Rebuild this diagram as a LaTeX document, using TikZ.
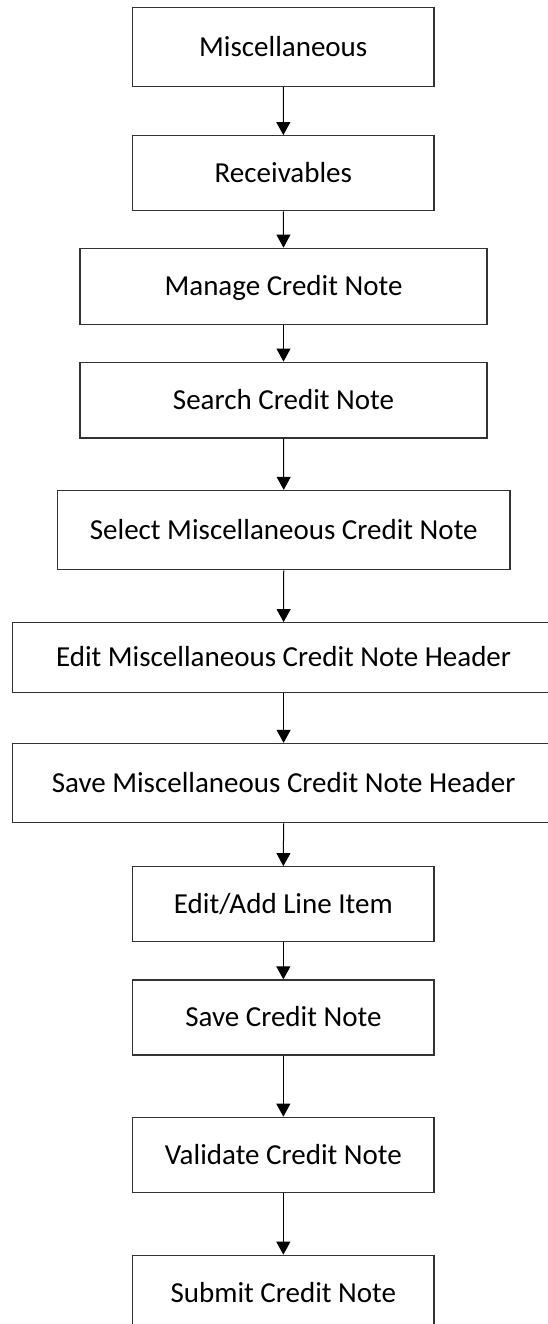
\documentclass[tikz,border=0pt]{standalone}
\usepackage{fontspec}
\setmainfont{Carlito}
\usetikzlibrary{arrows.meta}
\tikzset{
  stepbox/.style={draw=black!80, line width=1.3pt, rectangle, inner sep=0pt,
    font=\fontsize{29}{35}\selectfont, text height=18.5pt, text depth=0pt},
  flow/.style={draw=black, line width=1pt, -{Triangle[width=14pt,length=13pt]}}
}
\begin{document}
\begin{tikzpicture}[x=1pt,y=-1pt]
\useasboundingbox (0,0) rectangle (547,1324);
\newcommand{\bx}[7]{%
  \node[stepbox, minimum width=#4-#3, minimum height=#6-#5] (#1) at ({(#3+#4)/2},{(#5+#6)/2}) {#7};}
\bx{misc}{}{132.5}{434}{7.7}{86.5}{Miscellaneous}
\bx{recv}{}{132.7}{434}{135.7}{210.7}{Receivables}
\bx{manage}{}{80}{487}{248.3}{324.5}{Manage Credit Note}
\bx{search}{}{80}{487}{362.2}{438}{Search Credit Note}
\bx{select}{}{57.5}{510}{490.5}{569.6}{Select Miscellaneous Credit Note}
\bx{edith}{}{12.2}{555}{622.7}{692.5}{Edit Miscellaneous Credit Note Header}
\bx{saveh}{}{12.2}{555}{743.5}{822.7}{Save Miscellaneous Credit Note Header}
\bx{editadd}{}{132.7}{434}{866.7}{941.7}{Edit/Add Line Item}
\bx{savecn}{}{132.7}{434}{980}{1055}{Save Credit Note}
\bx{valid}{}{132.7}{434}{1117.3}{1192.7}{Validate Credit Note}
\bx{submit}{}{132.7}{434}{1255.3}{1330.5}{Submit Credit Note}
\foreach \a/\b in {misc/recv,recv/manage,manage/search,search/select,select/edith,edith/saveh,saveh/editadd,editadd/savecn,savecn/valid,valid/submit}
  \draw[flow] (\a.south) -- (\b.north);
\end{tikzpicture}
\end{document}
